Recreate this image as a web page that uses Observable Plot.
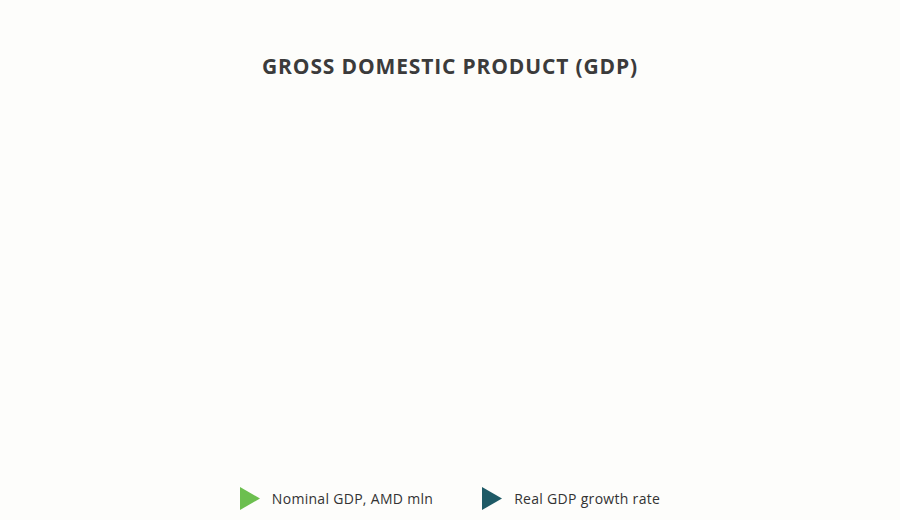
<!DOCTYPE html>
<html>
<head>
<meta charset="utf-8">
<script src="https://cdn.jsdelivr.net/npm/d3@7"></script>
<script src="https://cdn.jsdelivr.net/npm/@observablehq/plot@0.6"></script>
<style>
  body { margin: 0; background: #fdfdfb; font-family: "Open Sans", sans-serif; }
  #wrap { width: 900px; height: 520px; position: relative; }
  #title { position: absolute; top: 52px; left: 0; width: 900px; text-align: center;
           font-size: 21px; font-weight: 700; color: #3b3b3b; letter-spacing: 0.85px; line-height: 28px; }
  #chart { position: absolute; top: 90px; left: 0; }
  #legend { position: absolute; top: 487px; left: 0; width: 900px; display: flex; justify-content: center;
            align-items: center; font-size: 14px; letter-spacing: 0.3px; color: #333; }
  .item { display: flex; align-items: center; }
  .item svg { margin-right: 12px; }
  .item + .item { margin-left: 49px; }
</style>
</head>
<body>
<div id="wrap">
  <div id="title">GROSS DOMESTIC PRODUCT (GDP)</div>
  <div id="chart"></div>
  <div id="legend"></div>
</div>
<script>
// the reference shows the chart before any data was drawn: the series are empty
let years = []
let nominalGDP = []
let realGrowth = []

let seriesNames = ["Nominal GDP, AMD mln", "Real GDP growth rate"]
let seriesColors = ["#6cbf4f", "#1e5a66"]

let data = years.map((y, i) => ({year: y, nominal: nominalGDP[i], growth: realGrowth[i]}))

let chart = Plot.plot({
  width: 900,
  height: 385,
  style: {background: "transparent"},
  x: {axis: null, type: "band", domain: years},
  y: {axis: null},
  marks: [
    Plot.barY(data, {x: "year", y: "nominal", fill: seriesColors[0]}),
    Plot.line(data, {x: "year", y: "growth", stroke: seriesColors[1]})
  ]
})

d3.select('#chart').append(() => chart)

let legend = d3.select('#legend')
seriesNames.forEach((name, i) => {
  let item = legend.append('div').attr('class', 'item')
  item.append('svg').attr('width', 20).attr('height', 23)
    .append('polygon').attr('points', '0,0 20,11.5 0,23').attr('fill', seriesColors[i])
  item.append('span').text(name)
})
</script>
</body>
</html>
